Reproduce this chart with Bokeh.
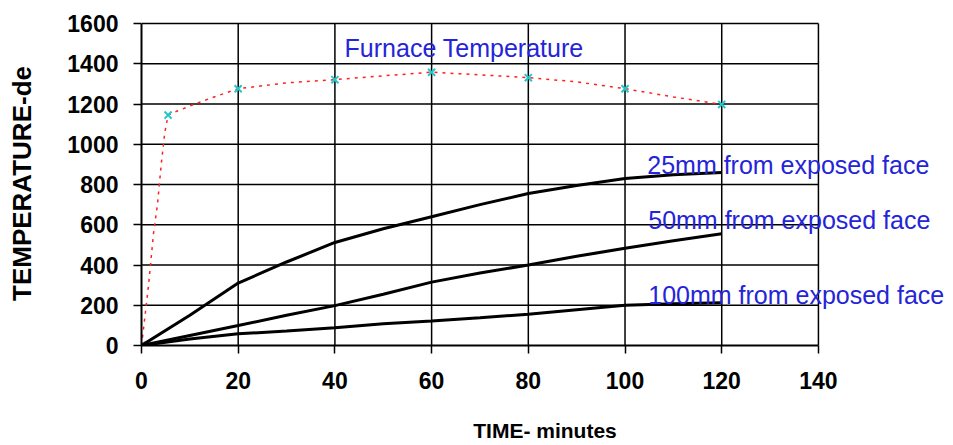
from bokeh.plotting import figure
from bokeh.models import Range1d, FixedTicker, Label
from bokeh.embed import file_html
from bokeh.resources import INLINE

# ---- data ----
furnace_t = [0, 0.5, 1.5, 2.5, 3.3, 4.1, 4.8, 5.5, 7.4, 11, 15, 20, 30, 40, 50, 60, 70, 80, 90, 100, 110, 120]
furnace_T = [0, 100, 310, 560, 700, 905, 1055, 1145, 1165, 1200, 1235, 1276, 1305, 1321, 1340, 1358, 1345, 1331, 1310, 1276, 1235, 1198]

marker_t = [0, 5.5, 20, 40, 60, 80, 100, 120]
marker_T = [0, 1145, 1276, 1321, 1358, 1331, 1276, 1198]

time_min = [0, 10, 20, 30, 40, 50, 60, 70, 80, 90, 100, 110, 120]
t25 = [0, 150, 310, 415, 512, 580, 640, 700, 755, 795, 830, 848, 860]
t50 = [0, 50, 99, 150, 198, 255, 315, 360, 400, 443, 483, 520, 555]
t100 = [0, 32, 58, 72, 88, 108, 122, 138, 155, 178, 200, 208, 213]

x_ticks = [0, 20, 40, 60, 80, 100, 120, 140]
y_ticks = [0, 200, 400, 600, 800, 1000, 1200, 1400, 1600]

labels = ["Furnace Temperature", "25mm from exposed face", "50mm from exposed face", "100mm from exposed face"]
label_x = [42, 104.6, 104.8, 104.8]
label_y = [1476, 896, 624, 253]

FONT = "Liberation Sans"
BLUE = "#2424d8"

X_MAX, Y_MAX = x_ticks[-1], y_ticks[-1]

p = figure(width=948, height=444, output_backend="svg", toolbar_location=None,
           x_range=Range1d(0, 166.9), y_range=Range1d(0, 1610),
           min_border_left=141, min_border_right=0, min_border_top=21, min_border_bottom=98)

p.background_fill_color = "white"
p.border_fill_color = "white"
p.outline_line_color = None
p.grid.visible = False

p.xaxis.ticker = FixedTicker(ticks=x_ticks)
p.yaxis.ticker = FixedTicker(ticks=y_ticks)
p.xaxis.bounds = (0, X_MAX)
p.yaxis.bounds = (0, Y_MAX)

for ax in (p.xaxis, p.yaxis):
    ax.axis_line_color = "black"
    ax.axis_line_width = 2
    ax.major_tick_line_color = "black"
    ax.major_tick_line_width = 1.5
    ax.major_tick_out = 8
    ax.major_tick_in = 0
    ax.minor_tick_line_color = None
    ax.major_label_text_font = FONT
    ax.major_label_text_font_style = "bold"
    ax.major_label_text_font_size = "23px"
    ax.major_label_text_color = "black"
    ax.axis_label_text_font = FONT
    ax.axis_label_text_font_style = "bold"
    ax.axis_label_text_color = "black"

p.xaxis.major_label_standoff = 18
p.yaxis.major_label_standoff = 15
p.xaxis.axis_label = "TIME- minutes"
p.xaxis.axis_label_text_font_size = "21px"
p.xaxis.axis_label_standoff = 27
p.yaxis.axis_label = "TEMPERATURE-de"
p.yaxis.axis_label_text_font_size = "26px"
p.yaxis.axis_label_standoff = 27

# grid lines, spanning only the chart's own 0-140 / 0-1600 area
p.segment(x0=0, y0=y_ticks[1:], x1=X_MAX, y1=y_ticks[1:], line_color="black", line_width=1.5)
p.segment(x0=x_ticks[1:], y0=0, x1=x_ticks[1:], y1=Y_MAX, line_color="black", line_width=1.5)

# furnace curve
p.line(furnace_t, furnace_T, line_color="#ff2020", line_width=1.5, line_dash="3 5")
p.scatter(marker_t, marker_T, marker="x", size=10, line_color="#22c8c8", line_width=2)

# section temperature curves
for series in (t25, t50, t100):
    p.line(time_min, series, line_color="black", line_width=3)

for txt, lx, ly in zip(labels, label_x, label_y):
    p.add_layout(Label(x=lx, y=ly, text=txt, text_font=FONT, text_font_size="25px",
                       text_color=BLUE, text_baseline="middle", text_align="left"))

open("out.html", "w").write(file_html(p, INLINE))
